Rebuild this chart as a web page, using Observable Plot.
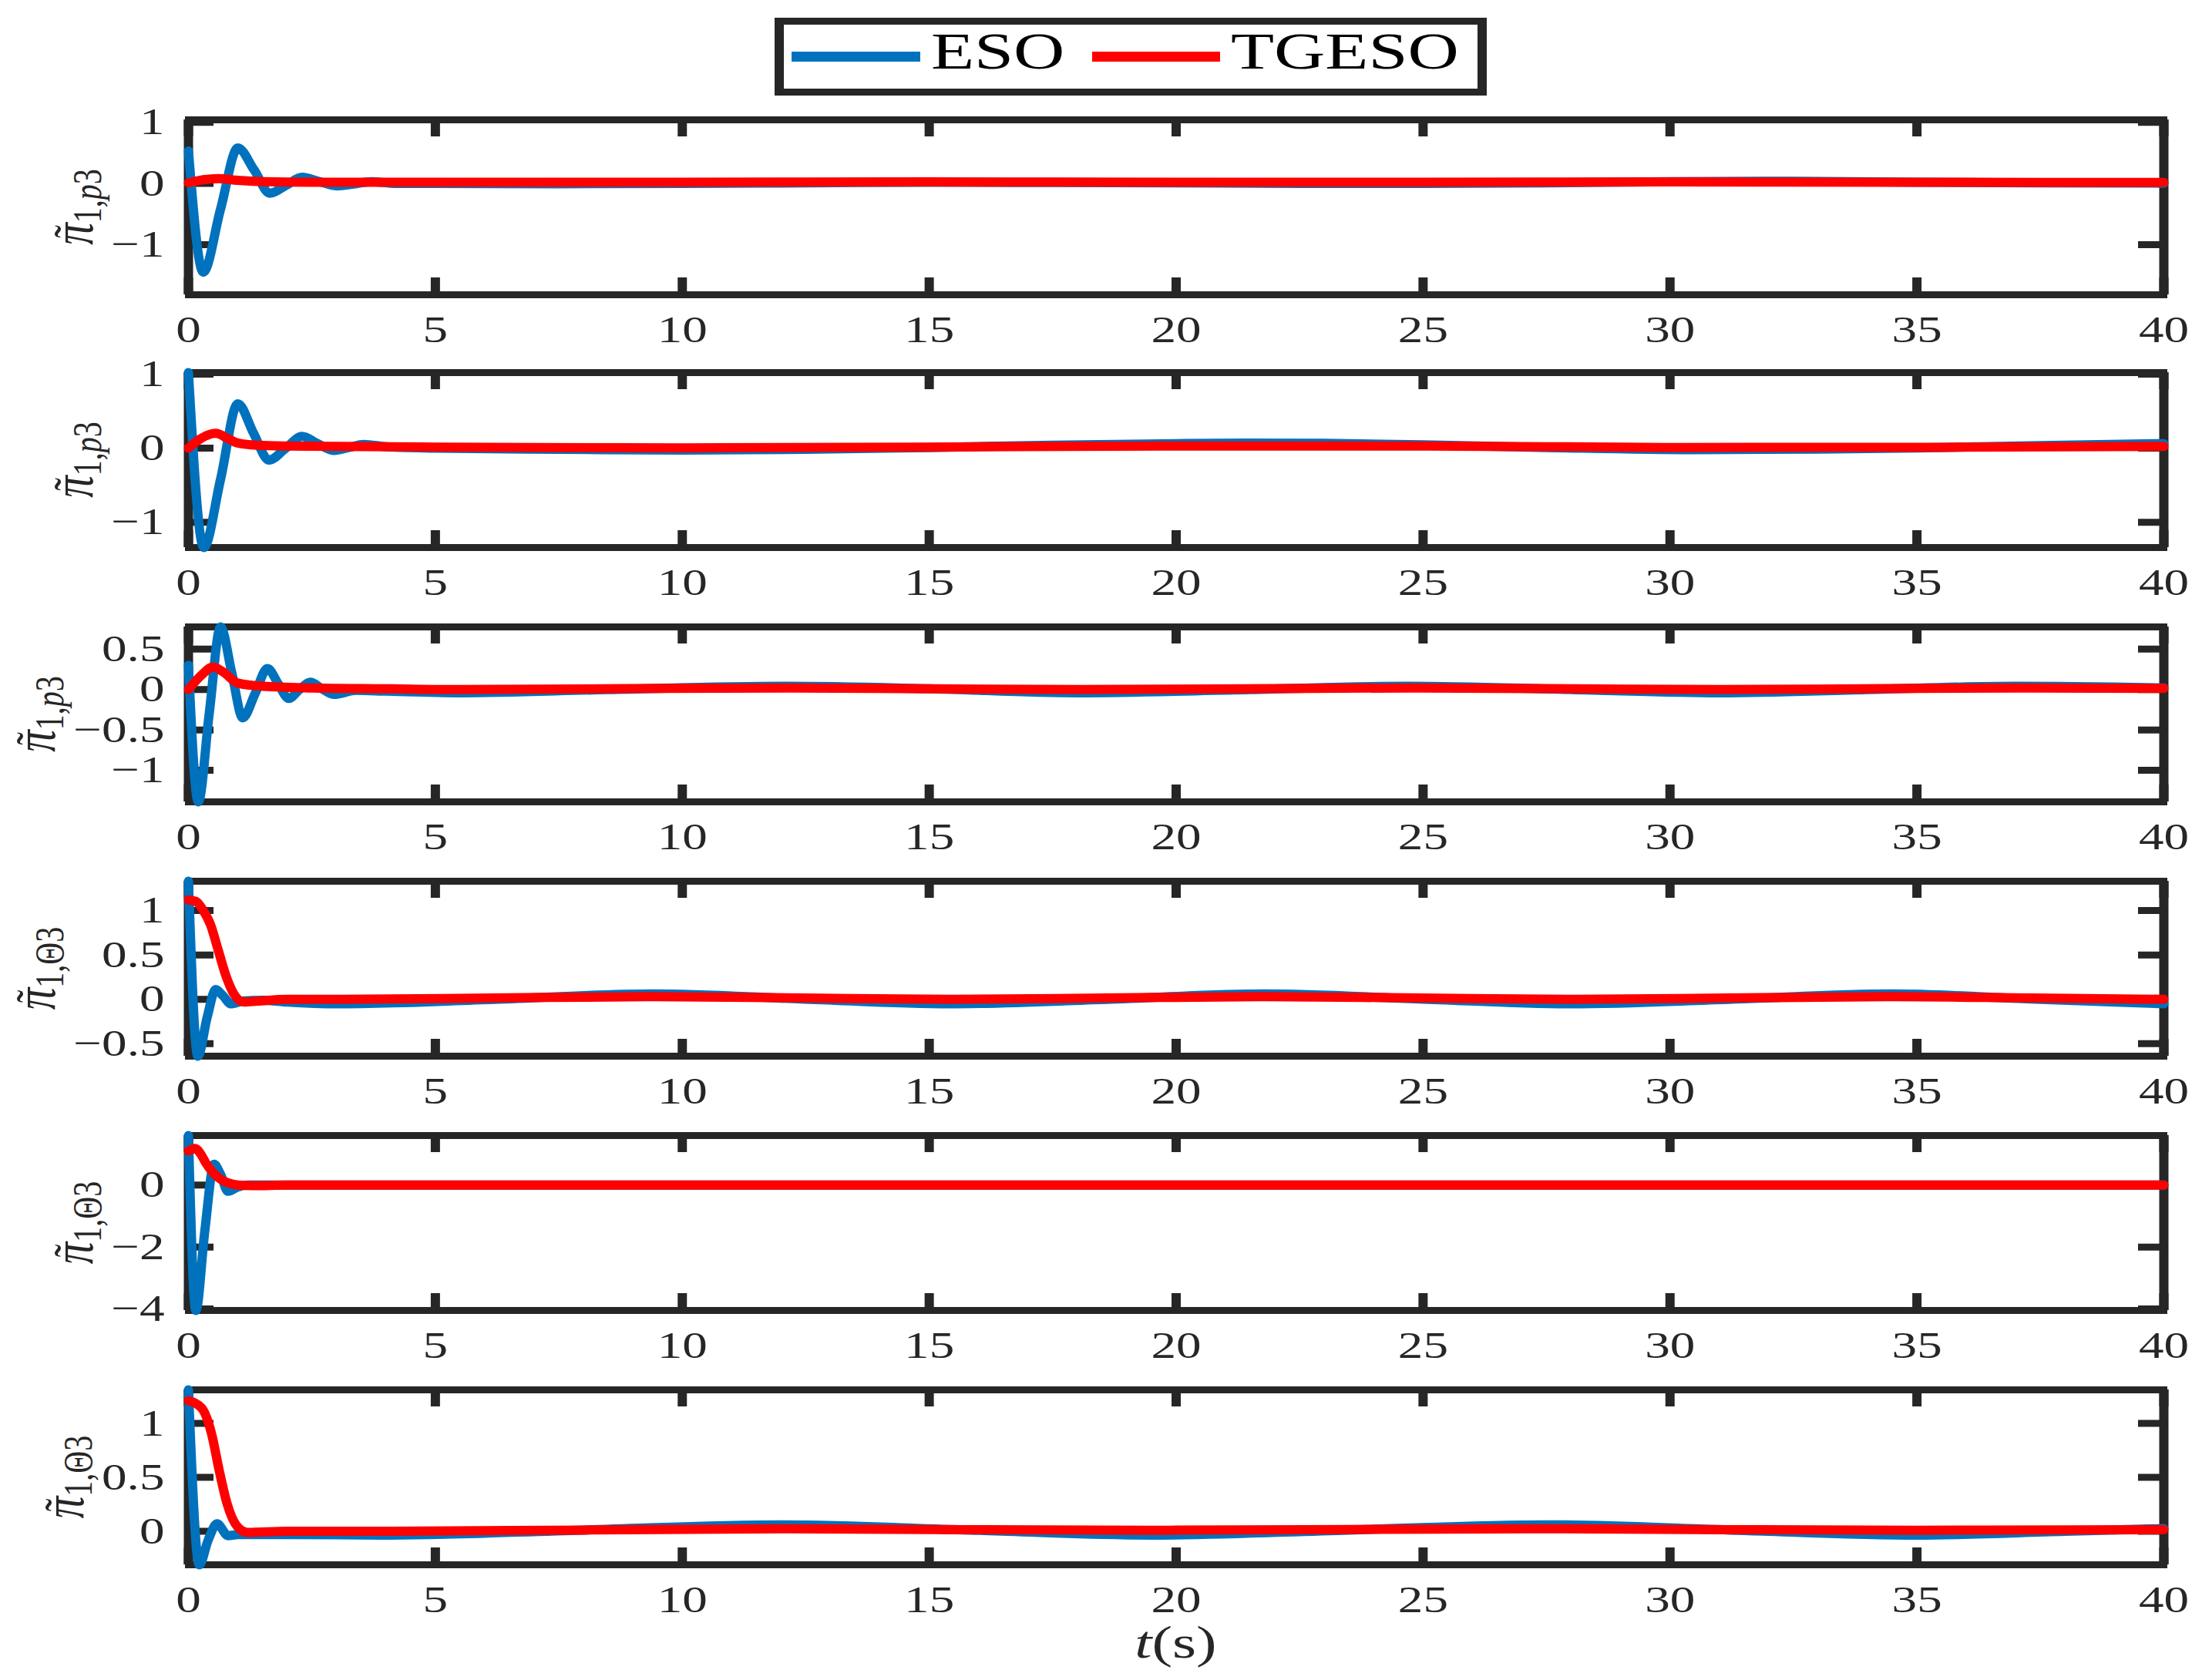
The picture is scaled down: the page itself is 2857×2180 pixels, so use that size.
<!DOCTYPE html>
<html>
<head>
<meta charset="utf-8">
<script src="https://cdn.jsdelivr.net/npm/d3@7"></script>
<script src="https://cdn.jsdelivr.net/npm/@observablehq/plot@0.6"></script>
<style>
  html, body { margin: 0; padding: 0; background: #fff; }
  #root { position: relative; width: 2857px; height: 2180px; background: #fff; overflow: hidden; }
</style>
</head>
<body>
<div id="root"></div>
<script>
// ---------------- DATA ----------------
const seriesNames = ["ESO", "TGESO"];
const xTicks = [0, 5, 10, 15, 20, 25, 30, 35, 40];
const xDomain = [0, 40];
const xLabel = ["t", "(s)"];

// panel 1  (π̃_{1,p3})
const p1_domain = [-1.82, 1.04];
const p1_ticks = [-1, 0, 1];
const p1_eso_t = [0, 0.3, 0.65, 1.0, 1.33, 1.65, 1.98, 2.3, 2.65, 3.0, 3.35, 3.7, 4.2, 5, 7.5, 10, 12.5, 15, 17.5, 20, 22.5, 25, 27.5, 30, 32.5, 35, 37.5, 40];
const p1_eso_y = [0.53, -1.45, -0.42, 0.58, 0.22, -0.16, -0.03, 0.1, 0.03, -0.04, -0.01, 0.03, 0.0, 0.0, -0.005, 0.0, 0.01, 0.02, 0.015, 0.01, 0.0, 0.0, 0.01, 0.03, 0.035, 0.02, 0.01, 0.005];
const p1_tg_t = [0, 0.3, 0.6, 1.0, 1.5, 2.5, 5, 10, 15, 20, 25, 30, 35, 40];
const p1_tg_y = [0.01, 0.06, 0.08, 0.05, 0.03, 0.02, 0.02, 0.02, 0.025, 0.02, 0.02, 0.025, 0.02, 0.015];

// panel 2  (π̃_{1,p3})
const p2_domain = [-1.34, 1.02];
const p2_ticks = [-1, 0, 1];
const p2_eso_t = [0, 0.31, 0.65, 1.0, 1.32, 1.63, 1.97, 2.3, 2.62, 2.95, 3.25, 3.55, 4, 5, 7.5, 10, 12.5, 15, 17.5, 20, 21.5, 23, 25, 27.5, 30.5, 33, 35, 37.5, 40];
const p2_eso_y = [1.02, -1.34, -0.42, 0.6, 0.2, -0.16, 0.0, 0.16, 0.06, -0.03, 0.01, 0.05, 0.02, 0.0, -0.015, -0.025, -0.015, 0.01, 0.04, 0.062, 0.07, 0.065, 0.045, 0.01, -0.02, -0.012, 0.005, 0.035, 0.062];
const p2_tg_t = [0, 0.25, 0.55, 0.8, 1.0, 1.4, 2, 3, 5, 10, 15, 20, 25, 30, 35, 40];
const p2_tg_y = [0.0, 0.13, 0.2, 0.13, 0.07, 0.04, 0.03, 0.025, 0.015, 0.005, 0.015, 0.03, 0.03, 0.01, 0.012, 0.025];

// panel 3  (π̃_{1,p3})
const p3_domain = [-1.39, 0.775];
const p3_ticks = [-1, -0.5, 0, 0.5];
const p3_eso_t = [0, 0.2, 0.42, 0.65, 0.88, 1.1, 1.35, 1.6, 1.82, 2.03, 2.25, 2.47, 2.7, 2.95, 3.4, 4, 5.5, 8.5, 12.1, 15, 18, 21.5, 24.7, 28, 31, 34, 37, 40];
const p3_eso_y = [0.3, -1.39, -0.3, 0.775, 0.2, -0.35, -0.05, 0.26, 0.07, -0.11, 0.0, 0.09, 0.01, -0.06, -0.01, -0.02, -0.04, 0.0, 0.04, 0.01, -0.04, 0.0, 0.04, 0.0, -0.04, 0.0, 0.04, 0.02];
const p3_tg_t = [0, 0.25, 0.5, 0.72, 1.0, 1.5, 2.5, 4, 5.5, 8.5, 12.1, 15, 18, 21.5, 24.7, 28, 31, 34, 37, 40];
const p3_tg_y = [0.0, 0.17, 0.28, 0.21, 0.08, 0.04, 0.02, 0.01, 0.0, 0.01, 0.02, 0.01, 0.0, 0.01, 0.02, 0.01, 0.0, 0.01, 0.02, 0.015];

// panel 4  (π̃_{1,Θ3})
const p4_domain = [-0.64, 1.33];
const p4_ticks = [-0.5, 0, 0.5, 1];
const p4_eso_t = [0, 0.19, 0.38, 0.55, 0.7, 0.86, 1.1, 1.5, 2, 3, 6.2, 9.4, 12.4, 15.4, 18.6, 21.8, 24.9, 28, 31.2, 34.5, 37.3, 40];
const p4_eso_y = [1.33, -0.64, -0.2, 0.11, 0.04, -0.05, -0.02, -0.01, -0.03, -0.05, 0.0, 0.06, 0.005, -0.05, 0.0, 0.06, 0.005, -0.05, 0.0, 0.06, 0.005, -0.05];
const p4_tg_t = [0, 0.16, 0.3, 0.44, 0.6, 0.75, 0.91, 1.12, 1.4, 2, 3, 6.2, 9.4, 12.4, 15.4, 18.6, 21.8, 24.9, 28, 31.2, 34.5, 37.3, 40];
const p4_tg_y = [1.12, 1.1, 1.0, 0.85, 0.56, 0.28, 0.07, -0.03, -0.02, 0.0, 0.0, 0.015, 0.03, 0.015, 0.0, 0.015, 0.03, 0.015, 0.0, 0.015, 0.03, 0.015, 0.0];

// panel 5  (π̃_{1,Θ3})
const p5_domain = [-4.05, 1.6];
const p5_ticks = [-4, -2, 0];
const p5_eso_t = [0, 0.15, 0.33, 0.52, 0.65, 0.8, 1.0, 1.2, 2, 5, 10, 15, 20, 25, 30, 35, 40];
const p5_eso_y = [1.6, -4.05, -1.5, 0.67, 0.35, -0.2, -0.06, 0.0, 0.0, 0.0, 0.0, 0.0, 0.0, 0.0, 0.0, 0.0, 0.0];
const p5_tg_t = [0, 0.14, 0.25, 0.35, 0.5, 0.65, 0.8, 1.0, 1.3, 2, 5, 10, 15, 20, 25, 30, 35, 40];
const p5_tg_y = [1.1, 1.18, 1.0, 0.72, 0.4, 0.19, 0.07, 0.0, -0.02, 0.0, 0.0, 0.0, 0.0, 0.0, 0.0, 0.0, 0.0, 0.0];

// panel 6  (π̃_{1,Θ3})
const p6_domain = [-0.31, 1.31];
const p6_ticks = [0, 0.5, 1];
const p6_eso_t = [0, 0.22, 0.4, 0.58, 0.8, 1.0, 1.5, 2, 4, 8, 12, 15.8, 19.5, 23.5, 27.5, 31.2, 35, 38, 40];
const p6_eso_y = [1.31, -0.31, -0.08, 0.07, -0.04, -0.03, -0.03, -0.03, -0.035, 0.012, 0.06, 0.012, -0.035, 0.012, 0.06, 0.012, -0.035, 0.0, 0.025];
const p6_tg_t = [0, 0.27, 0.47, 0.62, 0.78, 0.98, 1.2, 2, 4, 8, 12, 15.8, 19.5, 23.5, 27.5, 31.2, 35, 40];
const p6_tg_y = [1.21, 1.14, 0.9, 0.57, 0.26, 0.05, -0.01, 0.0, 0.0, 0.012, 0.024, 0.015, 0.01, 0.017, 0.024, 0.015, 0.01, 0.015];

// y-label pieces: main symbol, its accent, subscript parts [text, italic]
const labelMain = "\u03C0";
const labelAccent = "\u02DC";
const subP3 = [["1,", false], ["p", true], ["3", false]];
const subTheta3 = [["1,", false], ["\u0398", false], ["3", false]];

// ---------------- LAYOUT / STYLE ----------------
const INK = "#262626", BLUE = "#0072BD", RED = "#FF0000";
const FONT = "'Liberation Serif', 'Times New Roman', serif";
const SX = 1.33;               // horizontal text stretch of the original figure
const W = 2857, ML = 244, MR = 50, MT = 40;
const FH = 227;                 // frame height
const frameTops = [155, 483, 813, 1143, 1473, 1803];
const plotW = W - ML - MR;
const fmt = d3.format("~g");

const panels = [
  {eso: [p1_eso_t, p1_eso_y], tg: [p1_tg_t, p1_tg_y], domain: p1_domain, ticks: p1_ticks, sub: subP3},
  {eso: [p2_eso_t, p2_eso_y], tg: [p2_tg_t, p2_tg_y], domain: p2_domain, ticks: p2_ticks, sub: subP3},
  {eso: [p3_eso_t, p3_eso_y], tg: [p3_tg_t, p3_tg_y], domain: p3_domain, ticks: p3_ticks, sub: subP3},
  {eso: [p4_eso_t, p4_eso_y], tg: [p4_tg_t, p4_tg_y], domain: p4_domain, ticks: p4_ticks, sub: subTheta3},
  {eso: [p5_eso_t, p5_eso_y], tg: [p5_tg_t, p5_tg_y], domain: p5_domain, ticks: p5_ticks, sub: subTheta3},
  {eso: [p6_eso_t, p6_eso_y], tg: [p6_tg_t, p6_tg_y], domain: p6_domain, ticks: p6_ticks, sub: subTheta3}
];

function stretch(el) {
  let tr = el.getAttribute("transform");
  if (!tr) {
    const x = +el.getAttribute("x") || 0, y = +el.getAttribute("y") || 0;
    el.removeAttribute("x"); el.removeAttribute("y");
    tr = `translate(${x},${y})`;
  }
  el.setAttribute("transform", tr + ` scale(${SX},1)`);
}

const root = document.getElementById("root");

panels.forEach((p, i) => {
  const last = i === panels.length - 1;
  const MB = last ? 2180 - (frameTops[i] + FH) : 75;
  const H = MT + FH + MB;
  const eso = d3.zip(p.eso[0], p.eso[1]);
  const tg = d3.zip(p.tg[0], p.tg[1]);

  const chart = Plot.plot({
    width: W, height: H,
    marginLeft: ML, marginRight: MR, marginTop: MT, marginBottom: MB,
    style: {fontFamily: FONT, background: "transparent", overflow: "visible"},
    x: {type: "linear", domain: xDomain},
    y: {type: "linear", domain: p.domain},
    marks: [
      Plot.frame({stroke: INK, strokeWidth: 9}),
      Plot.ruleX(d3.extent(xTicks), {stroke: INK, strokeWidth: 12}),
      Plot.ruleX(xTicks, {stroke: INK, strokeWidth: 12, insetTop: FH - 22}),
      Plot.ruleX(xTicks, {stroke: INK, strokeWidth: 12, insetBottom: FH - 22}),
      Plot.ruleY(p.ticks, {stroke: INK, strokeWidth: 9, insetRight: plotW - 33}),
      Plot.ruleY(p.ticks, {stroke: INK, strokeWidth: 9, insetLeft: plotW - 33}),
      Plot.axisX(xTicks, {tickSize: 0, tickPadding: 27, fontSize: 49, fill: INK, label: null, tickFormat: fmt}),
      Plot.axisY(p.ticks, {tickSize: 0, tickPadding: 31, fontSize: 49, fill: INK, label: null, tickFormat: fmt}),
      Plot.line(eso, {x: d => d[0], y: d => d[1], stroke: BLUE, strokeWidth: 12, curve: "monotone-x"}),
      Plot.line(tg, {x: d => d[0], y: d => d[1], stroke: RED, strokeWidth: 12, curve: "monotone-x"})
    ]
  });
  chart.style.position = "absolute";
  chart.style.left = "0px";
  chart.style.top = (frameTops[i] - MT) + "px";
  chart.style.maxWidth = "none";
  root.appendChild(chart);

  const svg = d3.select(chart);
  svg.selectAll('g[aria-label="x-axis tick label"] text, g[aria-label="y-axis tick label"] text')
     .each(function () { stretch(this); });

  // y label placed left of the widest tick label
  const svgLeft = chart.getBoundingClientRect().left;
  const nodes = svg.selectAll('g[aria-label="y-axis tick label"] text').nodes();
  const minX = d3.min(nodes, n => n.getBoundingClientRect().left) - svgLeft;
  const xb = minX - 24;
  const yc = MT + FH / 2;
  const g = svg.append("g")
    .attr("transform", `translate(${xb},${yc}) scale(${SX},1) rotate(-90)`)
    .attr("fill", INK)
    .attr("font-family", FONT);
  const lbl = g.append("text").attr("text-anchor", "middle");
  lbl.append("tspan").attr("font-size", 57).attr("font-style", "italic").text(labelMain);
  const sub = lbl.append("tspan").attr("font-size", 40).attr("dy", 8);
  p.sub.forEach(([s, it]) => sub.append("tspan").attr("font-style", it ? "italic" : "normal").text(s));
  // accent (tilde) centred over the π glyph
  const tn = lbl.node();
  const s0 = tn.getStartPositionOfChar(0), e0 = tn.getEndPositionOfChar(0);
  g.append("text")
    .attr("x", (s0.x + e0.x) / 2 + 3)
    .attr("y", -4)
    .attr("text-anchor", "middle")
    .attr("font-size", 50)
    .text(labelAccent);

  if (last) {
    const xl = svg.append("text")
      .attr("transform", `translate(${ML + plotW / 2},${MT + FH + 121}) scale(${SX},1)`)
      .attr("text-anchor", "middle")
      .attr("font-size", 60)
      .attr("fill", INK)
      .attr("font-family", FONT);
    xl.append("tspan").attr("font-style", "italic").text(xLabel[0]);
    xl.append("tspan").text(xLabel[1]);
  }
});

// ---------------- LEGEND ----------------
const leg = d3.select(root).append("svg")
  .attr("width", W).attr("height", 140)
  .style("position", "absolute").style("left", "0px").style("top", "0px")
  .attr("font-family", FONT);
leg.append("rect").attr("x", 1011).attr("y", 27.5).attr("width", 912).attr("height", 92).attr("fill", "#fff");
leg.append("path").attr("d", "M1005,27.5H1929M1005,119.5H1929").attr("stroke", INK).attr("stroke-width", 9);
leg.append("path").attr("d", "M1011,23V124M1923,23V124").attr("stroke", INK).attr("stroke-width", 12);
const legItems = [
  {name: seriesNames[0], color: BLUE, x0: 1027, x1: 1194, tx: 1208},
  {name: seriesNames[1], color: RED, x0: 1417, x1: 1583, tx: 1597}
];
legItems.forEach(it => {
  leg.append("line").attr("x1", it.x0).attr("x2", it.x1).attr("y1", 73.5).attr("y2", 73.5)
    .attr("stroke", it.color).attr("stroke-width", 13);
  leg.append("text").attr("transform", `translate(${it.tx},89) scale(1.35,1)`)
    .attr("font-size", 68).attr("fill", "#000").text(it.name);
});
</script>
</body>
</html>
